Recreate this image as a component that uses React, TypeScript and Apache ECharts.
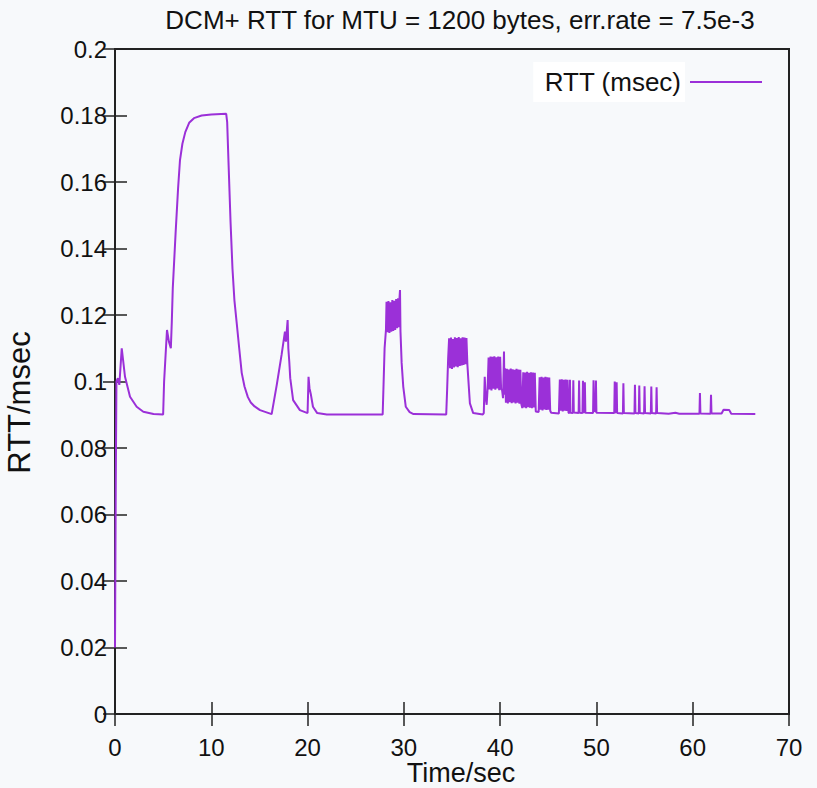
import React, { useEffect, useRef } from 'react';
import * as echarts from 'echarts';

const TITLE = 'DCM+ RTT for MTU = 1200 bytes, err.rate = 7.5e-3';
const SERIES_NAME = 'RTT (msec)';
const X_NAME = 'Time/sec';
const Y_NAME = 'RTT/msec';

const startup: number[][] = [
  [0, 0.02], [0.08, 0.07], [0.15, 0.1], [0.3, 0.101], [0.45, 0.099], [0.7, 0.11],
  [1.04, 0.1014], [1.56, 0.0954], [2.25, 0.0924], [2.94, 0.0909], [4.0, 0.0902], [5.0, 0.0901],
];

const mainPeak: number[][] = [
  [5.1, 0.1], [5.4, 0.1155], [5.6, 0.112], [5.8, 0.11], [5.9, 0.118], [6.0, 0.128], [6.3, 0.145],
  [6.55, 0.158], [6.75, 0.1666], [7.0, 0.1715], [7.3, 0.175], [7.7, 0.1778], [8.2, 0.1792],
  [9.0, 0.18], [10.0, 0.1803], [11.55, 0.1805], [11.65, 0.178], [11.8, 0.165], [12.0, 0.148],
  [12.2, 0.134], [12.4, 0.1245], [12.64, 0.1176], [12.9, 0.11], [13.16, 0.1026], [13.45, 0.0985],
  [13.8, 0.0953], [14.1, 0.0937], [14.5, 0.0925], [15.06, 0.0914], [16.27, 0.0902],
];

const secondBump: number[][] = [
  [16.8, 0.099], [17.3, 0.108], [17.65, 0.115], [17.75, 0.112], [17.93, 0.1185], [18.0, 0.11],
  [18.1, 0.106], [18.2, 0.101], [18.5, 0.0944], [19.2, 0.0914], [20.0, 0.0905], [20.1, 0.1014],
  [20.2, 0.098], [20.35, 0.096], [20.56, 0.0924], [21.0, 0.0905], [22.0, 0.0901], [27.8, 0.0901],
];

const burst28: number[][] = [
  [27.9, 0.1], [28.0, 0.11], [28.14, 0.1155], [28.2, 0.124], [28.3, 0.1148], [28.4, 0.1242],
  [28.5, 0.1146], [28.6, 0.1238], [28.7, 0.115], [28.8, 0.1245], [28.9, 0.1152], [29.0, 0.1243],
  [29.1, 0.1155], [29.2, 0.1248], [29.3, 0.116], [29.4, 0.125], [29.5, 0.1163], [29.55, 0.1252],
  [29.6, 0.1275], [29.65, 0.115], [29.77, 0.1056], [29.94, 0.0984], [30.2, 0.0924],
  [30.6, 0.0908], [31.0, 0.0902], [34.4, 0.0901],
];

const burst35: number[][] = [
  [34.5, 0.098], [34.6, 0.107], [34.7, 0.113], [34.8, 0.104], [34.9, 0.1132], [35.0, 0.1038],
  [35.1, 0.1128], [35.2, 0.1042], [35.3, 0.1133], [35.4, 0.1045], [35.5, 0.1131], [35.6, 0.1043],
  [35.7, 0.1134], [35.8, 0.1047], [35.9, 0.113], [36.0, 0.1048], [36.1, 0.1133], [36.2, 0.105],
  [36.3, 0.1132], [36.4, 0.1052], [36.5, 0.1131], [36.6, 0.105], [36.7, 0.1005], [36.86, 0.0934],
  [37.2, 0.0905], [38.2, 0.0901],
];

const burst39: number[][] = [
  [38.3, 0.0905], [38.4, 0.1014], [38.5, 0.095], [38.6, 0.093], [38.7, 0.098],
  [38.8, 0.1072], [38.9, 0.0976], [39.0, 0.1075], [39.1, 0.0973], [39.2, 0.1074], [39.3, 0.0978],
  [39.4, 0.1076], [39.5, 0.0975], [39.6, 0.1073], [39.7, 0.0979], [39.8, 0.1075], [39.9, 0.0974],
  [40.0, 0.1074], [40.1, 0.0977], [40.2, 0.0975], [40.3, 0.095], [40.4, 0.109], [40.45, 0.096],
  [40.5, 0.104], [40.6, 0.0936], [40.7, 0.1038], [40.8, 0.0934], [40.9, 0.1036], [41.0, 0.0938],
  [41.1, 0.1039], [41.2, 0.0935], [41.3, 0.1037], [41.4, 0.0937], [41.5, 0.1035], [41.6, 0.0934],
  [41.7, 0.1038], [41.8, 0.0936], [41.9, 0.1036], [42.0, 0.0933], [42.1, 0.1035], [42.2, 0.0932],
  [42.3, 0.092],
];

const burst43: number[][] = [
  [42.4, 0.1028], [42.5, 0.0922], [42.6, 0.1027], [42.7, 0.092], [42.8, 0.1029], [42.9, 0.0923],
  [43.0, 0.1026], [43.1, 0.0921], [43.2, 0.1028], [43.3, 0.092], [43.4, 0.1027], [43.5, 0.0922],
  [43.6, 0.1026], [43.7, 0.091], [44.0, 0.0908],
  [44.1, 0.1013], [44.2, 0.0915], [44.3, 0.1014], [44.4, 0.0913], [44.5, 0.1012], [44.6, 0.0916],
  [44.7, 0.1014], [44.8, 0.0914], [44.9, 0.1013], [45.0, 0.0915], [45.1, 0.1012], [45.2, 0.0912],
  [45.3, 0.0906], [46.1, 0.0904],
  [46.2, 0.1006], [46.3, 0.0912], [46.4, 0.1007], [46.5, 0.091], [46.6, 0.1005], [46.7, 0.0912],
  [46.8, 0.1006], [46.9, 0.0911], [47.0, 0.1005], [47.1, 0.0906],
];

const spikesAndTail: number[][] = [
  [47.2, 0.0905], [47.25, 0.1005], [47.3, 0.0906], [47.55, 0.0905], [47.6, 0.1004], [47.65, 0.0907],
  [48.15, 0.0905], [48.2, 0.1003], [48.25, 0.0906], [48.55, 0.0905], [48.6, 0.1002], [48.65, 0.0908],
  [48.75, 0.0906], [48.8, 0.0998], [48.85, 0.0906], [49.65, 0.0905], [49.7, 0.1004], [49.75, 0.0912],
  [49.9, 0.091], [49.95, 0.1003], [50.0, 0.0906], [51.85, 0.0905], [51.9, 0.1], [51.95, 0.0908],
  [52.05, 0.0906], [52.1, 0.0998], [52.15, 0.0905], [52.75, 0.0904], [52.8, 0.0995], [52.85, 0.0905],
  [53.95, 0.0904], [54.0, 0.099], [54.05, 0.0905], [54.4, 0.0904], [54.45, 0.0988], [54.5, 0.0905],
  [54.95, 0.0904], [55.0, 0.0986], [55.05, 0.0905], [55.65, 0.0904], [55.7, 0.0985], [55.75, 0.0905],
  [56.2, 0.0904], [56.25, 0.0983], [56.3, 0.0905], [57.5, 0.0903], [58.2, 0.0906], [58.6, 0.0903],
  [60.7, 0.0903], [60.75, 0.0965], [60.8, 0.0904], [61.85, 0.0903], [61.9, 0.096], [61.95, 0.0904],
  [63.0, 0.0904], [63.2, 0.0915], [63.8, 0.0914], [64.0, 0.0903], [66.5, 0.0902],
];

const LINE_COLOR = '#9b30d8';
const FONT = '"Liberation Sans", Arial, sans-serif';

export default function App() {
  const ref = useRef<HTMLDivElement>(null);
  useEffect(() => {
    if (!ref.current) return;
    const chart = echarts.init(ref.current, undefined, { renderer: 'svg' });
    const data = [
      ...startup, ...mainPeak, ...secondBump, ...burst28, ...burst35, ...burst39, ...burst43, ...spikesAndTail,
    ];
    const axisLine = { show: true, lineStyle: { color: '#222', width: 2 } };
    const axisTick = { show: true, inside: true, length: 12, lineStyle: { color: '#222', width: 1.5 } };
    chart.setOption({
      animation: false,
      backgroundColor: '#f7f9fb',
      textStyle: { fontFamily: FONT },
      title: {
        text: TITLE,
        left: 455,
        top: 2,
        textAlign: 'center',
        textStyle: { fontSize: 26, fontWeight: 'normal', color: '#111', fontFamily: FONT },
      },
      legend: {
        data: [SERIES_NAME],
        right: 50,
        top: 57,
        align: 'right',
        icon: 'rect',
        itemWidth: 72,
        itemHeight: 2,
        textStyle: {
          fontSize: 26,
          color: '#111',
          fontFamily: FONT,
          backgroundColor: '#ffffff',
          padding: [6, 4, 8, 11],
        },
      },
      grid: {
        left: 115, right: 28, top: 49, bottom: 74,
        outerBoundsMode: 'none',
        containLabel: false,
        show: true, borderColor: '#222', borderWidth: 2, backgroundColor: 'transparent',
      },
      xAxis: [
        {
          type: 'value', min: 0, max: 70, interval: 10, position: 'bottom',
          axisLine, axisTick, splitLine: { show: false },
          axisLabel: { fontSize: 24, color: '#111', margin: 21, fontFamily: FONT },
          name: X_NAME, nameLocation: 'middle', nameGap: 59, nameMoveOverlap: false,
          nameTextStyle: {
            fontSize: 27, lineHeight: 28, verticalAlign: 'middle',
            color: '#111', fontFamily: FONT, padding: [0, 0, 0, 18],
          },
        },
        {
          type: 'value', min: 0, max: 70, interval: 10, position: 'top',
          axisLine, axisTick, splitLine: { show: false }, axisLabel: { show: false },
        },
      ],
      yAxis: [
        {
          type: 'value', min: 0, max: 0.2, interval: 0.02, position: 'left',
          axisLine, axisTick, splitLine: { show: false },
          axisLabel: { fontSize: 24, color: '#111', margin: 8, fontFamily: FONT },
          name: Y_NAME, nameLocation: 'middle', nameGap: 80, nameMoveOverlap: false,
          nameTextStyle: { fontSize: 31, color: '#111', fontFamily: FONT, padding: [0, 42, 0, 0] },
        },
        {
          type: 'value', min: 0, max: 0.2, interval: 0.02, position: 'right',
          axisLine, axisTick, splitLine: { show: false }, axisLabel: { show: false },
        },
      ],
      series: [
        {
          name: SERIES_NAME,
          type: 'line',
          xAxisIndex: 0,
          yAxisIndex: 0,
          data,
          symbol: 'none',
          showSymbol: false,
          lineStyle: { color: LINE_COLOR, width: 2 },
          itemStyle: { color: LINE_COLOR },
        },
      ],
    });
    return () => chart.dispose();
  }, []);
  return <div ref={ref} style={{ position: 'fixed', left: 0, top: 0, width: 817, height: 788 }} />;
}
